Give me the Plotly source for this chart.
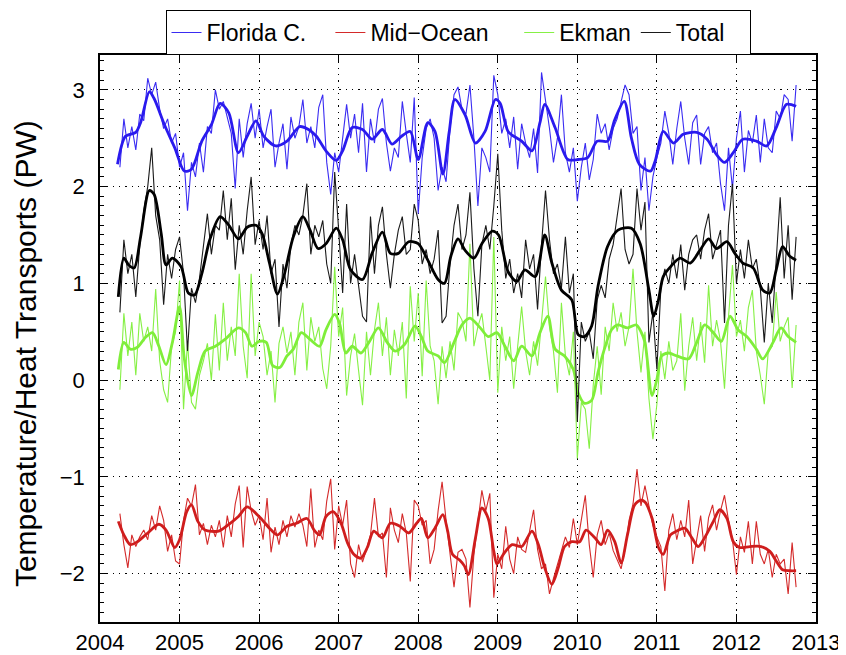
import plotly.graph_objects as go

# ---------------- data ----------------
# thin (raw) series sampled every 0.05 yr starting 2004.25
thin_start = 2004.25
thin_step = 0.05

florida_thin = [
    2.20, 2.70, 2.40, 2.62, 2.38, 2.75, 2.68, 3.12, 2.95, 3.08,
    2.80, 2.60, 2.70, 2.45, 2.55, 2.20, 2.35, 1.75, 2.25, 2.10,
    2.45, 2.15, 2.62, 2.55, 3.00, 2.80, 2.88, 2.70, 2.55, 1.98,
    2.70, 2.30, 2.65, 2.86, 2.50, 2.80, 2.40, 2.62, 2.80, 2.20,
    2.45,
    2.65, 2.18, 2.72, 2.50, 2.62, 2.90, 2.45, 2.62, 2.40, 2.82,
    2.95, 2.25, 1.92, 2.35, 2.15, 2.50, 2.85, 2.50, 2.75, 2.35,
    2.86, 2.15, 2.70, 2.45, 2.80, 2.91, 2.45, 2.16, 2.40, 2.30,
    2.88, 2.55, 2.25, 2.92, 1.72, 2.30, 2.60, 2.70, 2.50, 1.96,
    2.20, 2.05, 2.60, 2.95, 3.03, 2.80, 2.75,
    3.05, 2.50, 1.80, 2.40, 2.30, 2.15, 3.15, 2.95, 2.55, 2.70,
    2.40, 2.72, 2.18, 2.65, 2.45, 2.30, 2.60, 2.14, 3.18, 2.90,
    2.60, 2.25, 2.50, 2.95, 2.35, 2.15, 2.40, 1.85, 2.20, 2.45,
    2.07, 2.28, 2.75, 2.55, 2.65, 2.38, 2.60, 2.70, 2.88, 3.05,
    2.95, 2.55, 2.62, 1.96,
    2.30, 1.75, 2.10, 2.30, 2.45, 2.78, 2.55, 2.23, 2.60, 2.88,
    2.50, 2.23, 2.66, 2.74, 2.23, 2.55, 2.62, 2.35, 2.45, 2.03,
    1.75, 2.40, 1.98, 2.50, 2.78, 2.15, 2.58, 2.45, 2.74, 2.25,
    2.70, 2.40, 2.35, 2.78, 2.70, 2.95, 2.90, 2.47, 3.05,
]

total_thin = [
    0.70, 1.45, 1.10, 1.30, 0.86, 1.40, 1.75, 2.00, 2.40, 1.70,
    1.45, 0.78, 1.30, 1.05, 1.35, 1.48, 1.10, 0.30, 0.95, 0.80,
    1.05, 1.40, 1.72, 1.30, 1.60, 1.55, 1.96, 1.45, 1.88, 1.14,
    1.60, 1.30, 1.75, 2.10, 1.40, 1.65, 1.35, 1.70, 1.10, 1.25,
    0.55,
    1.20, 0.95, 1.40, 1.60, 1.50, 1.70, 2.03, 1.30, 1.60, 1.48,
    1.65, 1.20, 1.00, 2.15, 1.55, 0.90, 1.82, 1.00, 1.30, 0.95,
    0.66, 0.60, 1.69, 1.10, 1.60, 1.79, 1.30, 0.95, 1.30, 1.55,
    1.69, 1.30, 1.35, 1.82, 1.65, 1.20, 1.35, 1.10, 1.25, 1.55,
    0.59, 0.66, 1.20, 1.60, 1.82, 1.35, 1.50,
    1.94, 1.15, 0.66, 1.40, 1.60, 1.35, 1.80, 2.34, 1.55, 1.05,
    1.25, 0.90, 1.10, 0.85, 1.45, 1.15, 1.30, 0.73, 1.40, 1.96,
    1.45, 1.10, 1.20, 0.95, 1.48, 0.90, 1.10, -0.43, 0.60, 0.40,
    0.50, 0.22, 0.83, 0.98, 0.85, 1.25, 1.40, 1.70, 1.98, 1.35,
    1.20, 1.30, 1.98, 1.55,
    1.84, 0.39, 0.70, 0.11, 0.95, 1.15, 1.00, 1.30, 1.05, 1.40,
    0.93, 1.30, 1.45, 1.50, 1.25, 1.55, 1.72, 1.25, 1.40, 1.55,
    0.59, 1.60, 2.03, 1.00, 1.35, 1.05, 1.45, 1.15, 1.25, 0.95,
    0.39, 1.00, 0.59, 1.30, 1.89, 1.05, 1.60, 0.83, 1.48,
]

ekman_thin = [
    -0.10, 0.69, 0.25, 0.60, 0.05, 0.69, 0.40, 0.55, 0.30, 0.94,
    0.20, -0.10, -0.23, 0.35, 0.50, 1.03, -0.30, 0.40, -0.23, -0.30,
    0.05, 0.20, 0.38, 0.00, 0.68, 0.10, 0.80, 0.20, 0.55, 0.25,
    1.10, 0.35, 0.02, 1.10, 0.25, 0.60, 0.45, 0.05, 0.30, -0.23,
    0.38,
    0.55, 0.28, 0.50, 0.05, 0.60, 0.80, 0.10, 0.65, 0.40, 0.55,
    0.12, -0.09, 0.35, 1.17, 0.45, 0.75, -0.16, 0.25, 0.48, 0.10,
    -0.26, 0.50, 0.05, 0.52, 0.80, 0.25, 0.65, 0.05, 0.52, 0.25,
    0.60, -0.19, 0.97, 0.40, 0.90, 0.04, 1.03, 0.35, 0.20, -0.25,
    0.35, 0.02, 0.40, 0.10, 0.70, 0.62, 0.40,
    1.41, 0.35, 0.55, 0.69, 0.35, 0.00, 1.48, -0.13, 0.55, 0.20,
    0.45, -0.09, 0.35, 0.76, 0.30, 0.05, 0.40, 0.15, 0.60, 1.07,
    0.55, 0.30, -0.13, 0.80, 0.25, 0.05, 0.50, -0.81, -0.23, -0.30,
    -0.71, -0.05, 0.35, -0.15, 0.55, 0.30, 0.80, 0.50, 0.70, 0.35,
    0.55, 1.15, 0.50, 0.08,
    0.50, -0.19, -0.61, -0.25, 0.30, 0.01, 0.40, 0.10, 0.20, 0.69,
    -0.11, 0.35, 0.65, 0.20, 0.60, 0.18, 0.98, 0.35, 0.62, 0.40,
    -0.09, 0.65, 1.19, 0.45, 0.62, 0.30, 0.75, 0.93, 0.30, 0.05,
    -0.25, 0.30, 0.35, 0.91, 0.40, 0.55, 0.65, -0.08, 0.57,
]

midocean_thin = [
    -1.38, -1.70, -1.94, -1.60, -1.72, -1.62, -1.55, -1.65, -1.40, -1.55,
    -1.30, -1.45, -1.77, -1.60, -1.87, -1.90, -1.45, -1.22, -1.30, -1.08,
    -1.60, -1.48, -1.70, -1.50, -1.62, -1.45, -1.73, -1.40, -1.62, -1.28,
    -1.09, -1.73, -1.10, -1.35, -1.50, -1.40, -1.65, -1.22, -1.78, -1.52,
    -1.70,
    -1.45, -1.62, -1.40, -1.52, -1.38, -1.50, -1.72, -1.12, -1.73, -1.55,
    -1.65, -1.25, -1.02, -1.75, -1.30, -1.50, -1.24, -1.90, -2.04, -1.70,
    -1.88, -1.75, -1.60, -1.22, -1.62, -1.58, -2.04, -1.32, -1.55, -1.68,
    -1.38, -1.58, -2.08, -1.24, -1.30, -1.50, -1.45, -1.90, -1.75, -1.35,
    -1.05, -1.45, -1.78, -2.14, -1.78, -1.75, -1.85,
    -2.35, -1.80, -1.45, -1.14, -1.35, -1.17, -2.25, -1.80, -1.95, -1.51,
    -1.85, -2.00, -1.62, -1.75, -1.78, -1.56, -1.34, -1.75, -1.95, -1.90,
    -2.21, -2.05, -1.90, -1.75, -1.62, -1.73, -1.43, -1.70, -1.42, -1.19,
    -1.70, -2.04, -1.60, -1.45, -1.70, -1.58, -1.76, -1.85, -1.95, -1.75,
    -1.45, -1.28, -0.92, -1.30,
    -1.09, -1.30, -1.50, -1.62, -1.72, -2.18, -1.55, -1.38, -1.65, -1.45,
    -1.62, -1.24, -1.90, -1.65, -1.40, -1.77, -1.42, -1.29, -1.55, -1.35,
    -1.19, -1.45, -1.65, -2.01, -1.62, -1.78, -1.46, -1.90, -1.46, -1.80,
    -1.90, -1.75, -2.04, -1.80, -1.90, -1.85, -2.21, -1.68, -2.14,
]

# smoothed (thick) series, knots
florida_smooth_t = [
    2004.22, 2004.32, 2004.45, 2004.51, 2004.62, 2004.68, 2004.81, 2004.94, 2005.06, 2005.15,
    2005.28, 2005.40, 2005.51, 2005.62, 2005.74, 2005.85, 2005.96, 2006.06, 2006.21, 2006.35,
    2006.51, 2006.62, 2006.72, 2006.84, 2006.97, 2007.05, 2007.17, 2007.30, 2007.42, 2007.55,
    2007.67, 2007.79, 2007.90, 2008.00, 2008.12, 2008.21, 2008.31, 2008.39, 2008.46, 2008.59,
    2008.72, 2008.84, 2008.97, 2009.03, 2009.13, 2009.30, 2009.43, 2009.53, 2009.59, 2009.72,
    2009.88, 2010.01, 2010.13, 2010.25, 2010.38, 2010.47, 2010.59, 2010.68, 2010.78, 2010.92,
    2010.98, 2011.08, 2011.21, 2011.33, 2011.50, 2011.63, 2011.75, 2011.85, 2011.96, 2012.08,
    2012.25, 2012.38, 2012.50, 2012.63, 2012.75,
]
florida_smooth = [
    2.23, 2.52, 2.56, 2.66, 2.98, 2.91, 2.64, 2.40, 2.16, 2.18,
    2.47, 2.64, 2.86, 2.76, 2.35, 2.52, 2.68, 2.52, 2.42, 2.47,
    2.62, 2.59, 2.52, 2.37, 2.27, 2.37, 2.61, 2.59, 2.49, 2.59,
    2.44, 2.52, 2.57, 2.28, 2.66, 2.57, 2.13, 2.57, 2.90, 2.74,
    2.45, 2.57, 2.90, 2.86, 2.57, 2.47, 2.37, 2.66, 2.85, 2.61,
    2.28, 2.28, 2.30, 2.47, 2.47, 2.69, 2.88, 2.50, 2.23, 2.16,
    2.27, 2.57, 2.45, 2.54, 2.56, 2.49, 2.33, 2.25, 2.35, 2.49,
    2.47, 2.42, 2.61, 2.85, 2.83,
]

total_smooth_t = [
    2004.23, 2004.30, 2004.36, 2004.43, 2004.51, 2004.62, 2004.68, 2004.77, 2004.83, 2004.91,
    2005.02, 2005.11, 2005.19, 2005.28, 2005.38, 2005.51, 2005.62, 2005.74, 2005.85, 2005.96,
    2006.04, 2006.13, 2006.23, 2006.31, 2006.43, 2006.55, 2006.64, 2006.74, 2006.84, 2006.97,
    2007.05, 2007.15, 2007.30, 2007.42, 2007.55, 2007.65, 2007.75, 2007.88, 2008.00, 2008.12,
    2008.25, 2008.33, 2008.41, 2008.50, 2008.59, 2008.70, 2008.80, 2008.93, 2009.01, 2009.13,
    2009.24, 2009.34, 2009.47, 2009.59, 2009.68, 2009.80, 2009.93, 2010.01, 2010.09, 2010.18,
    2010.26, 2010.38, 2010.51, 2010.68, 2010.79, 2010.90, 2010.96, 2011.02, 2011.08, 2011.17,
    2011.29, 2011.42, 2011.54, 2011.65, 2011.75, 2011.88, 2011.98, 2012.08, 2012.21, 2012.33,
    2012.42, 2012.50, 2012.58, 2012.67, 2012.75,
]
total_smooth = [
    0.86, 1.26, 1.19, 1.16, 1.48, 1.96, 1.92, 1.51, 1.19, 1.26,
    1.17, 0.90, 0.88, 1.10, 1.45, 1.69, 1.60, 1.46, 1.58, 1.60,
    1.51, 1.21, 0.89, 1.07, 1.48, 1.69, 1.55, 1.36, 1.41, 1.57,
    1.45, 1.14, 1.04, 1.31, 1.53, 1.31, 1.31, 1.43, 1.41, 1.24,
    1.04, 1.00, 1.28, 1.46, 1.34, 1.26, 1.41, 1.54, 1.50, 1.12,
    1.02, 1.14, 1.07, 1.50, 1.21, 0.93, 0.83, 0.47, 0.45, 0.56,
    0.97, 1.38, 1.55, 1.57, 1.41, 0.93, 0.66, 0.83, 1.07, 1.17,
    1.26, 1.21, 1.34, 1.46, 1.36, 1.43, 1.31, 1.21, 1.16, 0.93,
    0.90, 1.14, 1.38, 1.28, 1.24,
]

ekman_smooth_t = [
    2004.23, 2004.30, 2004.38, 2004.47, 2004.57, 2004.66, 2004.74, 2004.83, 2004.91, 2005.00,
    2005.06, 2005.15, 2005.23, 2005.32, 2005.45, 2005.57, 2005.74, 2005.83, 2005.91, 2006.00,
    2006.09, 2006.17, 2006.26, 2006.35, 2006.43, 2006.53, 2006.64, 2006.76, 2006.84, 2006.95,
    2007.01, 2007.09, 2007.17, 2007.28, 2007.38, 2007.50, 2007.61, 2007.71, 2007.83, 2007.96,
    2008.04, 2008.12, 2008.25, 2008.33, 2008.45, 2008.55, 2008.65, 2008.78, 2008.88, 2008.99,
    2009.09, 2009.20, 2009.30, 2009.43, 2009.53, 2009.63, 2009.72, 2009.84, 2009.95, 2010.01,
    2010.09, 2010.18, 2010.26, 2010.34, 2010.43, 2010.51, 2010.63, 2010.74, 2010.80, 2010.85,
    2010.94, 2011.00, 2011.06, 2011.15, 2011.25, 2011.40, 2011.50, 2011.60, 2011.71, 2011.81,
    2011.92, 2012.02, 2012.13, 2012.25, 2012.33, 2012.46, 2012.56, 2012.65, 2012.75,
]
ekman_smooth = [
    0.11, 0.39, 0.32, 0.34, 0.44, 0.49, 0.35, 0.16, 0.39, 0.76,
    0.22, -0.16, 0.08, 0.30, 0.35, 0.42, 0.54, 0.49, 0.35, 0.40,
    0.39, 0.15, 0.13, 0.25, 0.32, 0.49, 0.42, 0.35, 0.52, 0.68,
    0.59, 0.28, 0.35, 0.28, 0.39, 0.54, 0.39, 0.30, 0.37, 0.56,
    0.45, 0.30, 0.25, 0.18, 0.39, 0.57, 0.64, 0.54, 0.45, 0.49,
    0.35, 0.20, 0.35, 0.25, 0.49, 0.66, 0.32, 0.25, 0.11, -0.13,
    -0.24, -0.21, 0.08, 0.32, 0.52, 0.57, 0.54, 0.57, 0.50, 0.39,
    -0.16, 0.01, 0.25, 0.28, 0.25, 0.22, 0.39, 0.57, 0.49, 0.40,
    0.66, 0.52, 0.45, 0.32, 0.22, 0.39, 0.54, 0.45, 0.39,
]

midocean_smooth_t = [
    2004.23, 2004.30, 2004.38, 2004.47, 2004.60, 2004.74, 2004.83, 2004.94, 2005.00, 2005.09,
    2005.15, 2005.23, 2005.32, 2005.49, 2005.62, 2005.74, 2005.85, 2006.00, 2006.13, 2006.23,
    2006.35, 2006.47, 2006.60, 2006.70, 2006.76, 2006.84, 2006.93, 2007.03, 2007.11, 2007.19,
    2007.28, 2007.36, 2007.44, 2007.55, 2007.65, 2007.77, 2007.88, 2007.98, 2008.04, 2008.12,
    2008.21, 2008.31, 2008.37, 2008.43, 2008.52, 2008.58, 2008.63, 2008.72, 2008.80, 2008.88,
    2008.95, 2008.99, 2009.07, 2009.18, 2009.30, 2009.43, 2009.51, 2009.59, 2009.68, 2009.76,
    2009.84, 2009.93, 2010.03, 2010.11, 2010.22, 2010.30, 2010.38, 2010.47, 2010.55, 2010.63,
    2010.72, 2010.80, 2010.85, 2010.94, 2011.02, 2011.08, 2011.17, 2011.25, 2011.35, 2011.44,
    2011.52, 2011.60, 2011.71, 2011.79, 2011.88, 2011.96, 2012.04, 2012.17, 2012.31, 2012.42,
    2012.50, 2012.58, 2012.67, 2012.75,
]
midocean_smooth = [
    -1.46, -1.60, -1.70, -1.67, -1.58, -1.49, -1.55, -1.73, -1.65, -1.36,
    -1.29, -1.46, -1.55, -1.56, -1.49, -1.41, -1.31, -1.41, -1.53, -1.60,
    -1.51, -1.48, -1.43, -1.56, -1.60, -1.41, -1.36, -1.48, -1.68, -1.80,
    -1.84, -1.73, -1.56, -1.63, -1.48, -1.51, -1.58, -1.48, -1.43, -1.63,
    -1.53, -1.39, -1.56, -1.80, -1.86, -1.92, -2.01, -1.63, -1.32, -1.43,
    -1.77, -1.90, -1.80, -1.70, -1.72, -1.56, -1.70, -1.94, -2.11, -1.94,
    -1.72, -1.67, -1.67, -1.55, -1.63, -1.70, -1.55, -1.67, -1.89, -1.60,
    -1.29, -1.24, -1.26, -1.43, -1.73, -1.80, -1.60, -1.56, -1.53, -1.63,
    -1.72, -1.63, -1.46, -1.34, -1.43, -1.67, -1.73, -1.72, -1.72, -1.77,
    -1.87, -1.96, -1.97, -1.97,
]

series_names = ["Florida C.", "Mid\u2212Ocean", "Ekman", "Total"]
legend_pad = [3, 4, 0, 3]   # extra non-breaking spaces to spread legend entries
x_ticks = list(range(2004, 2014))
y_ticks = [-2, -1, 0, 1, 2, 3]
y_ticktext = ["\u22122", "\u22121", "0", "1", "2", "3"]
y_title = "Temperature/Heat Transports (PW)"

# ---------------- figure ----------------
def thin_times(n):
    return [round(thin_start + thin_step * i, 2) for i in range(n)]

colors_thin = ["#3a2cf2", "#d42a2a", "#86f045", "#1a1a1a"]
colors_thick = ["#2a1aee", "#cf1d1d", "#7fee3a", "#000000"]
thin_data = [florida_thin, midocean_thin, ekman_thin, total_thin]
smooth_data = [
    (florida_smooth_t, florida_smooth),
    (midocean_smooth_t, midocean_smooth),
    (ekman_smooth_t, ekman_smooth),
    (total_smooth_t, total_smooth),
]

fig = go.Figure()
for name, pad, thin, (st, sv), ct, ck in zip(series_names, legend_pad, thin_data, smooth_data,
                                             colors_thin, colors_thick):
    fig.add_trace(go.Scatter(
        x=thin_times(len(thin)), y=thin, mode="lines", name=name + "\u00a0" * pad,
        line=dict(color=ct, width=1.1), showlegend=True,
    ))
    fig.add_trace(go.Scatter(
        x=st, y=sv, mode="lines", name=name + " (smoothed)",
        line=dict(color=ck, width=2.8, shape="spline", smoothing=0.8), showlegend=False,
    ))

axis_common = dict(
    showline=True, linecolor="black", linewidth=1.5, mirror="ticks",
    ticks="inside", ticklen=8, tickwidth=1, tickcolor="black",
    showgrid=True, gridcolor="black", griddash="1.3px,5px", gridwidth=1.2,
    zeroline=False, automargin=False,
    tickfont=dict(size=22),
)

# the page adds an 8 px body margin, so the figure is 838 x 647
fig.update_layout(
    width=838, height=647,
    margin=dict(l=92, r=30, t=42, b=33),
    paper_bgcolor="white", plot_bgcolor="white",
    font=dict(family="Liberation Sans, Arial, sans-serif", size=22, color="black"),
    xaxis=dict(range=[2004, 2013], tickvals=x_ticks, ticktext=[str(v) for v in x_ticks], **axis_common),
    yaxis=dict(
        range=[-2.5, 3.36], tickvals=y_ticks, ticktext=y_ticktext,
        minor=dict(dtick=0.1, ticks="inside", ticklen=4, tickcolor="black", showgrid=False),
        ticklabelstandoff=9,
        **axis_common,
    ),
    legend=dict(
        orientation="h", x=0.5, xanchor="center",
        yref="container", y=1 - 2 / 647, yanchor="top",
        bordercolor="black", borderwidth=1, bgcolor="white",
        font=dict(size=23), tracegroupgap=0,
    ),
    annotations=[dict(
        text=y_title, xref="paper", yref="paper",
        x=-0.105, y=0.474, xanchor="center", yanchor="middle",
        textangle=-90, showarrow=False, font=dict(size=30),
    )],
    showlegend=True,
)

fig.write_html("out.html")
